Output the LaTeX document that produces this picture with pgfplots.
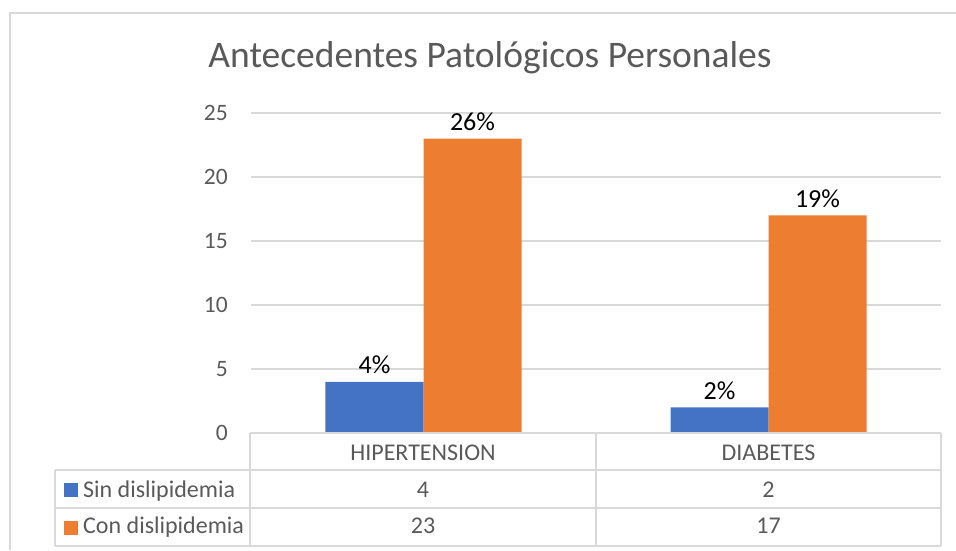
\documentclass[border=0pt]{standalone}
\usepackage{pgfplots}
\pgfplotsset{compat=1.18}
\usepackage{fontspec}
\setmainfont{Carlito}
\definecolor{cblue}{HTML}{4472C4}
\definecolor{corange}{HTML}{ED7D31}
\definecolor{tgray}{HTML}{595959}
\definecolor{lgray}{HTML}{D9D9D9}
\begin{document}
\begin{tikzpicture}[x=1pt,y=1pt]
\path[use as bounding box] (-251,-117) rectangle (705,433);
\begin{axis}[
  at={(0,0)}, anchor=south west,
  scale only axis, width=690pt, height=320pt,
  xmin=-0.5, xmax=1.5, ymin=0, ymax=25,
  ybar=0pt, bar width=98pt,
  axis line style={draw=none},
  xtick=\empty,
  ytick={0,5,10,15,20,25},
  major tick length=0pt,
  ymajorgrids, grid style={lgray, line width=1.5pt},
  /pgf/number format/assume math mode=true,
  yticklabel style={font=\fontsize{23.5}{28}\selectfont, text=tgray, anchor=east, inner sep=0pt, xshift=-23pt},
  clip=false,
  nodes near coords,
  point meta=explicit symbolic,
  every node near coord/.append style={font=\fontsize{26}{30}\selectfont, text=black, anchor=base, inner sep=0pt, yshift=8pt},
]
\addplot[fill=cblue, draw=none] coordinates {(0,4) [4\%] (1,2) [2\%]};
\addplot[fill=corange, draw=none] coordinates {(0,23) [26\%] (1,17) [19\%]};
\end{axis}
% frame
\draw[lgray, line width=1.5pt] (-241,-117) -- (-241,420) -- (705,420);
% data table
\begin{scope}[lgray, line width=1.5pt]
\draw (-1,0) -- (690,0);
\draw (-196,-37) -- (690,-37);
\draw (-196,-75) -- (690,-75);
\draw (-196,-113) -- (690,-113);
\draw (-1,0) -- (-1,-113);
\draw (345,0) -- (345,-113);
\draw (690,0) -- (690,-113);
\draw (-196,-37) -- (-196,-113);
\end{scope}
\begin{scope}[every node/.style={font=\fontsize{24}{28}\selectfont, text=tgray, inner sep=0pt}]
\node[anchor=base] at (172,-27) {HIPERTENSION};
\node[anchor=base] at (517.5,-27) {DIABETES};
\node[anchor=base] at (172,-64) {4};
\node[anchor=base] at (517.5,-64) {2};
\node[anchor=base] at (172,-100) {23};
\node[anchor=base] at (517.5,-100) {17};
\node[anchor=base west] at (-168,-64) {Sin dislipidemia};
\node[anchor=base west] at (-168,-100) {Con dislipidemia};
\end{scope}
\fill[cblue] (-187,-50) rectangle (-173,-64);
\fill[corange] (-187,-88) rectangle (-173,-102);
\node[anchor=base, font=\fontsize{37.5}{44}\selectfont, text=tgray, inner sep=0pt] at (239,365) {Antecedentes Patológicos Personales};
\end{tikzpicture}
\end{document}
